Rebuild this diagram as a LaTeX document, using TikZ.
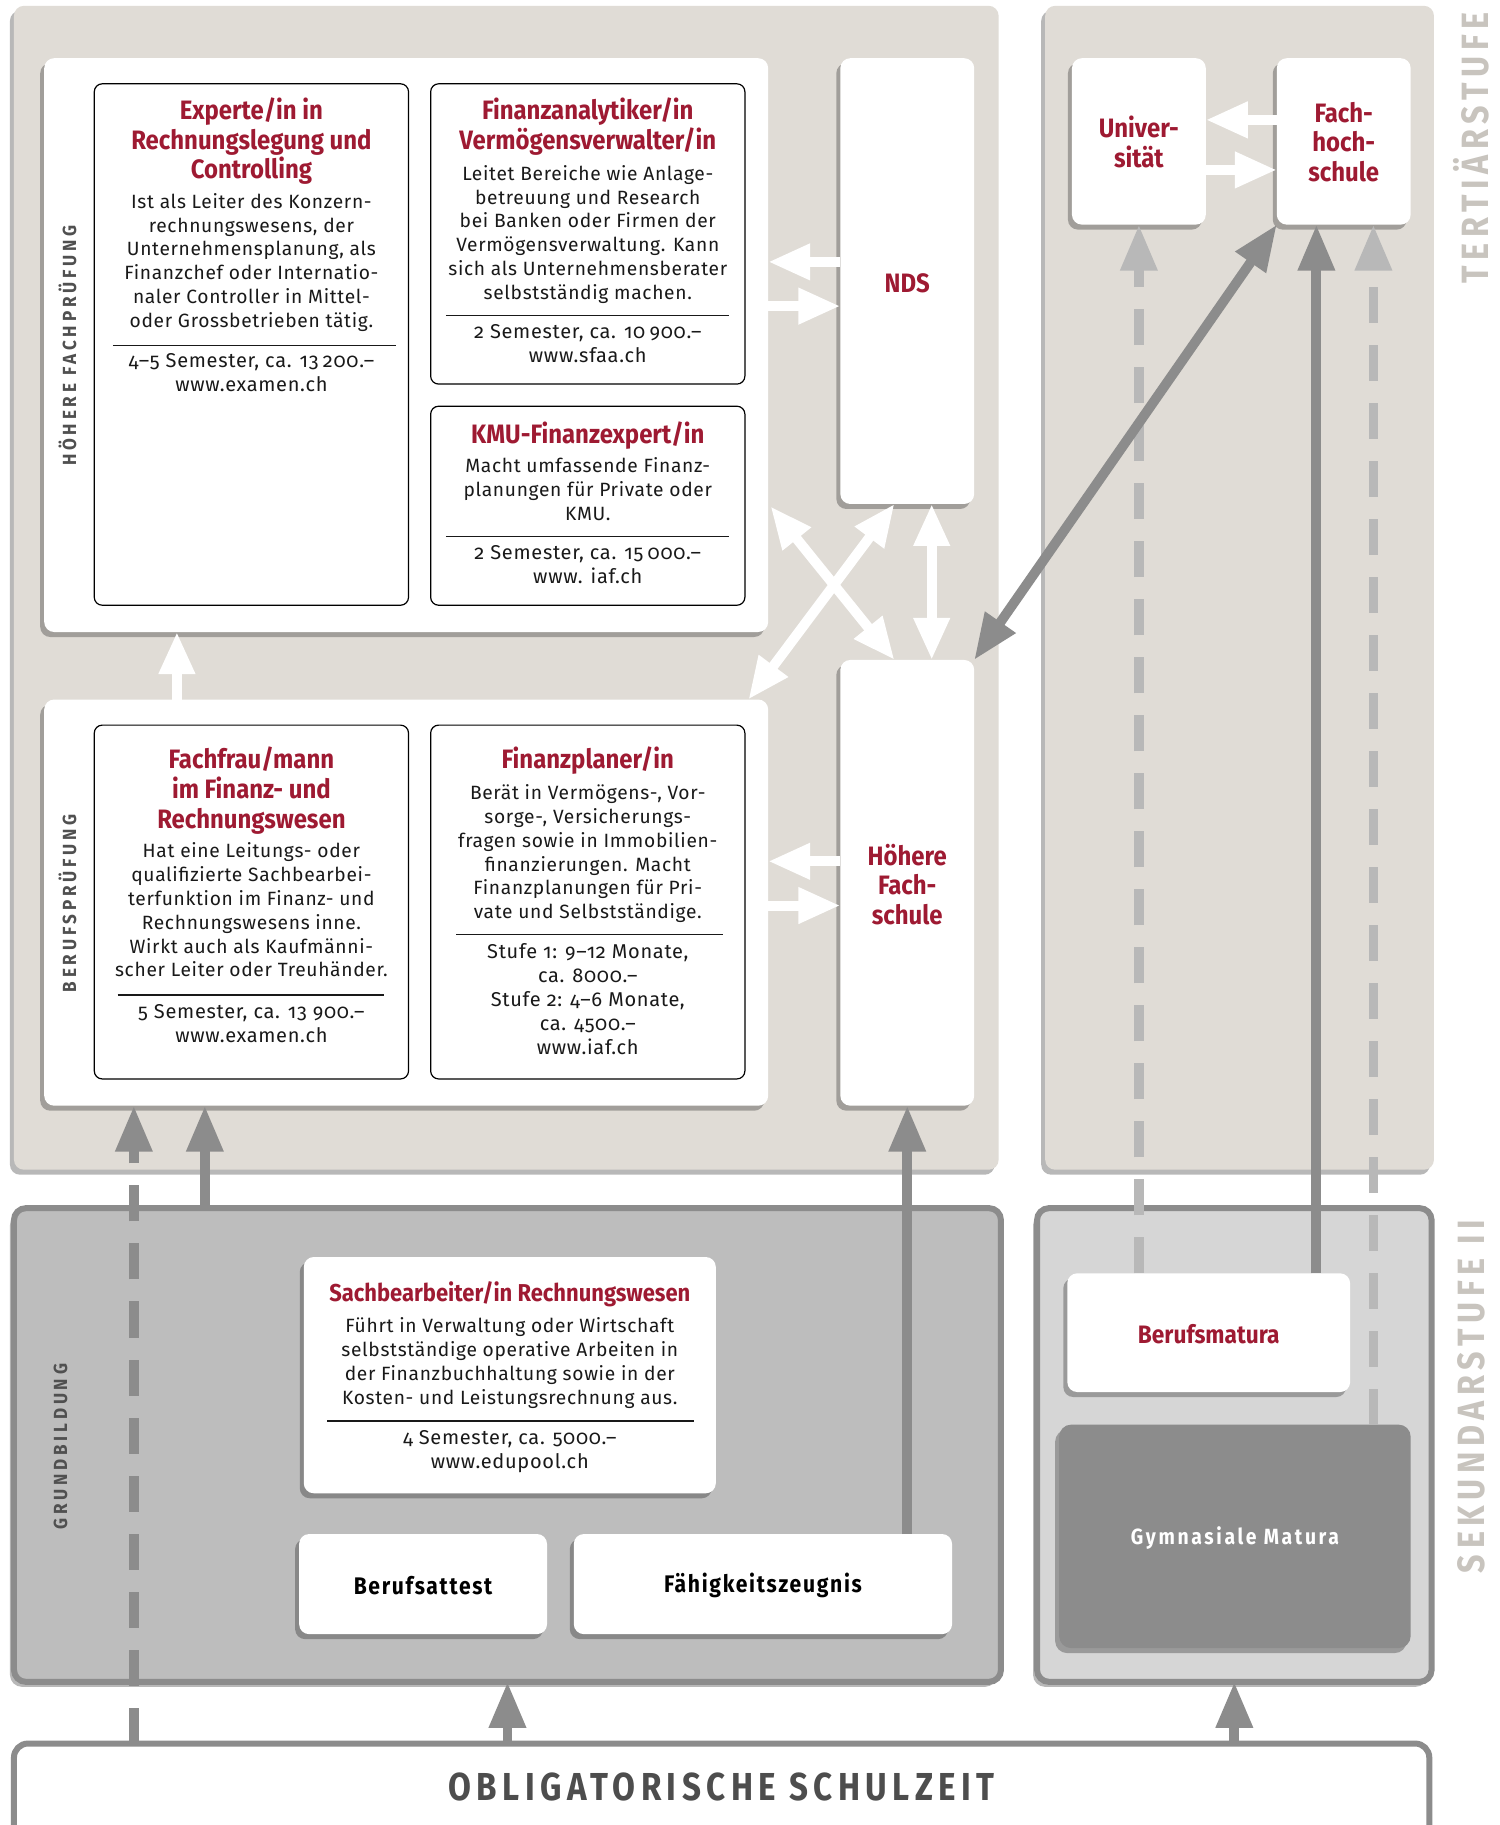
\documentclass[tikz,border=0pt]{standalone}
\usepackage{fontspec}
\setmainfont{Fira Sans}[Numbers=OldStyle]
\newfontfamily\bodyfont{Fira Sans}[Numbers=OldStyle,LetterSpace=3.5]
\newfontfamily\condfont{Fira Sans}[FakeStretch=0.9,Numbers=OldStyle]
\newfontfamily\capsfont{Fira Sans}[FakeStretch=0.9,LetterSpace=20]
\newfontfamily\stufefont{Fira Sans}[FakeStretch=0.85,LetterSpace=15]
\newfontfamily\oblfont{Fira Sans}[FakeStretch=0.85,LetterSpace=14]
\newfontfamily\boxfont{Fira Sans}[FakeStretch=0.88,LetterSpace=7]
\newfontfamily\gymfont{Fira Sans}[FakeStretch=0.88,LetterSpace=12]
\newcommand\thsp{\hspace{0.22em}}
\usetikzlibrary{arrows.meta,shadows,fit,calc}
\definecolor{beige}{RGB}{224,220,214}
\definecolor{dred}{RGB}{158,26,50}
\definecolor{mgray}{RGB}{140,140,140}
\definecolor{lgray}{RGB}{184,184,184}
\definecolor{grundfill}{RGB}{189,189,189}
\definecolor{sekfill}{RGB}{214,214,214}
\definecolor{labgray}{RGB}{80,80,80}
\definecolor{stufegray}{RGB}{200,196,190}
\definecolor{obltext}{RGB}{77,77,77}
\definecolor{bodytext}{RGB}{25,25,25}
\tikzset{
  nosep/.style={inner sep=0pt, outer sep=0pt},
  shad/.style={drop shadow={shadow xshift=-2pt, shadow yshift=-2.5pt, opacity=0.28, fill=black}},
  panel/.style={nosep, rounded corners=5pt, fill=beige, shad},
  wpanel/.style={nosep, rounded corners=5pt, fill=white, shad},
  card/.style={nosep, rounded corners=4pt, draw=black, line width=0.6pt, fill=white},
  gpanel/.style={nosep, rounded corners=6pt, draw=mgray, line width=3pt, shad},
  ttl/.style={nosep, anchor=north, align=center, text=dred, font=\condfont\bfseries\fontsize{13.3}{14.8}\selectfont},
  bdy/.style={nosep, anchor=north, align=center, text=bodytext, font=\bodyfont\fontsize{9.6}{11.93}\selectfont},
  ftr/.style={bdy, font=\bodyfont\fontsize{10}{11.93}\selectfont},
  rulel/.style={line width=0.7pt, draw=bodytext},
  sidelab/.style={nosep, rotate=90, text=labgray, font=\capsfont\bfseries\fontsize{9.5}{10}\selectfont},
  stufe/.style={nosep, rotate=90, text=stufegray, font=\stufefont\bfseries\fontsize{19}{20}\selectfont},
  redlab/.style={nosep, align=center, text=dred, font=\condfont\bfseries\fontsize{13.3}{14.8}\selectfont},
  blklab/.style={nosep, text=black, font=\boxfont\bfseries\fontsize{12}{14}\selectfont},
  garrow/.style={draw=mgray, line width=4.9pt, -{Triangle[width=17.5pt,length=23pt]}},
  gdbl/.style={draw=mgray, line width=4.9pt, {Triangle[width=17.5pt,length=23pt]}-{Triangle[width=17.5pt,length=23pt]}},
  gdash/.style={garrow, dash pattern=on 18pt off 11pt},
  ldash/.style={gdash, draw=lgray},
  warrow/.style={draw=white, line width=5pt, -{Triangle[width=17pt,length=21pt]}},
  wdbl/.style={draw=white, line width=5pt, {Triangle[width=17pt,length=21pt]}-{Triangle[width=17pt,length=21pt]}},
}
\begin{document}
\begin{tikzpicture}[x=0.5819pt, y=-0.5819pt]
\useasboundingbox (0,0) rectangle (1288,1568);
\fill[white] (0,0) rectangle (1288,1568);

% tertiary panels
\node[panel, fit={(12,5)(858,1005)}] (tertL) {};
\node[panel, fit={(898,5)(1232,1005)}] (tertR) {};
\node[stufe] (tlab) at (1264,127) {TERTIÄRSTUFE};
\node[stufe] (slab) at (1264,1200) {SEKUNDARSTUFE II};

% Hoehere Fachpruefung
\node[wpanel, fit={(38,50)(660,543)}] (hfp) {};
\node[sidelab] (hfplab) at (58,297) {HÖHERE FACHPRÜFUNG};
\node[card, fit={(81,72)(351,520)}] (exp) {};
\node[ttl] (expT) at (216,84) {Experte/in in\\Rechnungslegung und\\Controlling};
\node[bdy] (expB) at (216,166) {Ist als Leiter des Konzern-\\rechnungswesens, der\\Unternehmensplanung, als\\Finanzchef oder Internatio-\\naler Controller in Mittel-\\oder Grossbetrieben tätig.};
\draw[rulel] (97,297) -- (340,297);
\node[ftr] (expF) at (216,304) {4–5 Semester, ca. 13\thsp200.–\\www.examen.ch};

\node[card, fit={(370,72)(640,330)}] (fin) {};
\node[ttl] (finT) at (505,84) {Finanzanalytiker/in\\Vermögensverwalter/in};
\node[bdy] (finB) at (505,142) {Leitet Bereiche wie Anlage-\\betreuung und Research\\bei Banken oder Firmen der\\Vermögensverwaltung. Kann\\sich als Unternehmensberater\\selbstständig machen.};
\draw[rulel] (383,271) -- (626,271);
\node[ftr] (finF) at (505,279) {2 Semester, ca. 10\thsp900.–\\www.sfaa.ch};

\node[card, fit={(370,349)(640,520)}] (kmu) {};
\node[ttl] (kmuT) at (505,362) {KMU-Finanzexpert/in};
\node[bdy] (kmuB) at (505,393) {Macht umfassende Finanz-\\planungen für Private oder\\KMU.};
\draw[rulel] (383,461) -- (626,461);
\node[ftr] (kmuF) at (505,469) {2 Semester, ca. 15\thsp000.–\\www. iaf.ch};

\node[wpanel, fit={(722,50)(837,433)}] (nds) {};
\node[redlab] (ndsT) at (779.5,243) {NDS};

% Berufspruefung
\node[wpanel, fit={(38,601)(660,950)}] (bp) {};
\node[sidelab] (bplab) at (58,776) {BERUFSPRÜFUNG};
\node[card, fit={(81,623)(351,927)}] (ff) {};
\node[ttl] (ffT) at (216,642) {Fachfrau/mann\\im Finanz- und\\Rechnungswesen};
\node[bdy] (ffB) at (216,724) {Hat eine Leitungs- oder\\qualifizierte Sachbearbei-\\terfunktion im Finanz- und\\Rechnungswesens inne.\\Wirkt auch als Kaufmänni-\\scher Leiter oder Treuhänder.};
\draw[rulel] (101,855) -- (330,855);
\node[ftr] (ffF) at (216,863) {5 Semester, ca. 13 900.–\\www.examen.ch};

\node[card, fit={(370,623)(640,927)}] (fp) {};
\node[ttl] (fpT) at (505,642) {Finanzplaner/in};
\node[bdy] (fpB) at (505,674) {Berät in Vermögens-, Vor-\\sorge-, Versicherungs-\\fragen sowie in Immobilien-\\finanzierungen. Macht\\Finanzplanungen für Pri-\\vate und Selbstständige.};
\draw[rulel] (392,803) -- (621,803);
\node[ftr] (fpF) at (505,811) {Stufe 1: 9–12 Monate,\\ca. 8000.–\\Stufe 2: 4–6 Monate,\\ca. 4500.–\\www.iaf.ch};

\node[wpanel, fit={(722,567)(837,950)}] (hfs) {};
\node[redlab] (hfsT) at (779.5,760) {Höhere\\Fach-\\schule};

% Uni / FH
\node[wpanel, fit={(921,50)(1036,193)}] (uni) {};
\node[redlab] (uniT) at (978.5,122) {Univer-\\sität};
\node[wpanel, fit={(1097,50)(1212,193)}] (fh) {};
\node[redlab] (fhT) at (1154.5,122) {Fach-\\hoch-\\schule};

% Grundbildung
\node[gpanel, fill=grundfill, fit={(12,1038)(860,1445)}] (grund) {};
\node[sidelab] (grlab) at (52,1243) {GRUNDBILDUNG};
\node[wpanel, fit={(261,1080)(615,1283)}] (sach) {};
\node[ttl, font=\condfont\bfseries\fontsize{12.2}{14}\selectfont] (sachT) at (438,1101.5) {Sachbearbeiter/in Rechnungswesen};
\node[bdy] (sachB) at (438,1132) {Führt in Verwaltung oder Wirtschaft\\selbstständige operative Arbeiten in\\der Finanzbuchhaltung sowie in der\\Kosten- und Leistungsrechnung aus.};
\draw[rulel] (281,1221) -- (596,1221);
\node[ftr] (sachF) at (438,1229) {4 Semester, ca. 5000.–\\www.edupool.ch};
\node[wpanel, fit={(257,1318)(470,1404)}] (ba) {};
\node[blklab] (baT) at (363.5,1362) {Berufsattest};
\node[wpanel, fit={(493,1318)(818,1404)}] (fz) {};
\node[blklab] (fzT) at (655.5,1362) {Fähigkeitszeugnis};

% Sekundarstufe right
\node[gpanel, fill=sekfill, fit={(891,1038)(1230,1445)}] (sek) {};
\node[wpanel, fit={(917,1094)(1160,1196)}] (bm) {};
\node[redlab, font=\condfont\bfseries\fontsize{12.6}{14}\selectfont] (bmT) at (1038.5,1146) {Berufsmatura};
\node[nosep, rounded corners=6pt, fill=mgray, shad, fit={(910,1224)(1212,1416)}] (gm) {};
\node[nosep, text=white, font=\gymfont\bfseries\fontsize{11}{13}\selectfont] (gmT) at (1061,1321) {Gymnasiale Matura};

% Obligatorische Schulzeit
\node[nosep, rounded corners=7pt, draw=mgray, line width=3pt, fill=white, fit={(12,1498)(1228,1600)}] (obl) {};
\node[nosep, text=obltext, font=\oblfont\bfseries\fontsize{19.5}{21}\selectfont] (oblT) at (620,1535) {OBLIGATORISCHE SCHULZEIT};

% white arrows
\draw[warrow] (fh.west |- 0,103) -- (uni.east |- 0,103);
\draw[warrow] (uni.east |- 0,146) -- (fh.west |- 0,146);
\draw[warrow] (nds.west |- 0,225) -- (hfp.east |- 0,225);
\draw[warrow] (hfp.east |- 0,263) -- (nds.west |- 0,263);
\draw[warrow] (hfs.west |- 0,740) -- (bp.east |- 0,740);
\draw[warrow] (bp.east |- 0,778) -- (hfs.west |- 0,778);
\draw[warrow] (bp.north -| 152,0) -- (hfp.south -| 152,0);
\draw[wdbl] ($(hfp.east |- nds.south)+(2,2)$) -- ($(hfs.north)+(-11,0)$);
\draw[wdbl] ($(nds.south)+(-11,0)$) -- ($(bp.north east)+(-17,0)$);
\draw[wdbl] ($(nds.south)+(21,0)$) -- ($(hfs.north)+(21,0)$);

% gray arrows
\draw[garrow] (fz.north -| hfs.south) -- (hfs.south);
\draw[gdash] (obl.north -| 115,0) -- (bp.south -| 115,0);
\draw[garrow] (grund.north -| 176,0) -- (bp.south -| 176,0);
\draw[garrow] (obl.north -| grund.south) -- (grund.south);
\draw[garrow] (obl.north -| sek.south) -- (sek.south);
\draw[ldash] (bm.north -| uni.south) -- (uni.south);
\draw[garrow] (bm.north -| 1131,0) -- (fh.south -| 1131,0);
\draw[ldash] (gm.north -| 1180,0) -- (fh.south -| 1180,0);
\draw[gdbl] (hfs.north east) -- (fh.south west);
\end{tikzpicture}
\end{document}
